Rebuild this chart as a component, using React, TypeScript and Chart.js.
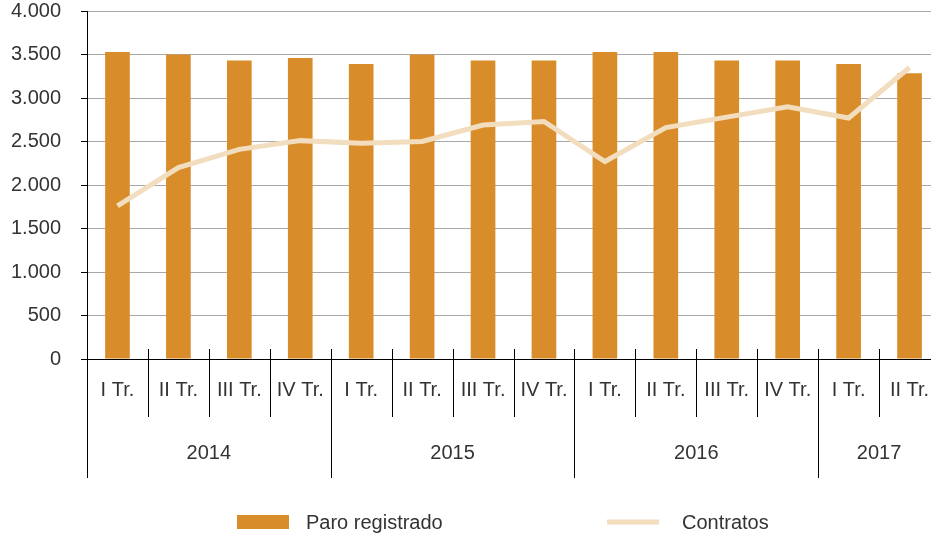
import React, { useEffect, useRef } from "react";
import { Chart, registerables } from "chart.js";

Chart.register(...registerables);

const quarters = ["I Tr.", "II Tr.", "III Tr.", "IV Tr.", "I Tr.", "II Tr.", "III Tr.", "IV Tr.", "I Tr.", "II Tr.", "III Tr.", "IV Tr.", "I Tr.", "II Tr."];
const years = ["2014", "2015", "2016", "2017"];
const quartersPerYear = [4, 4, 4, 2];
const paroRegistrado = [3530, 3500, 3430, 3460, 3390, 3500, 3430, 3430, 3530, 3530, 3430, 3430, 3390, 3285];
const contratos = [1760, 2200, 2410, 2510, 2480, 2500, 2690, 2730, 2270, 2660, 2780, 2900, 2770, 3350];
const yTicks = [0, 500, 1000, 1500, 2000, 2500, 3000, 3500, 4000];

const BAR_COLOR = "#D88D2A";
const LINE_COLOR = "#F2DDBE";
const TEXT_COLOR = "#333333";
const FONT = "'Liberation Sans', Arial, Helvetica, sans-serif";

const fmt = (v: number) => v.toLocaleString("de-DE");

const axisPlugin = {
  id: "multiAxis",
  afterDraw(chart: any) {
    const ctx = chart.ctx;
    const xs = chart.scales.x;
    const area = chart.chartArea;
    const bottom = area.bottom;
    const n = quarters.length;
    const half = (xs.getPixelForValue(1) - xs.getPixelForValue(0)) / 2;
    const yearStarts: number[] = [];
    let acc = 0;
    quartersPerYear.forEach((q) => { yearStarts.push(acc); acc += q; });
    ctx.save();
    ctx.strokeStyle = "#000";
    ctx.lineWidth = 1;
    for (let i = 0; i <= n; i++) {
      const x = Math.round(xs.getPixelForValue(i) - half) + 0.5;
      const isYear = yearStarts.includes(i);
      ctx.beginPath();
      ctx.moveTo(x, bottom - 10);
      ctx.lineTo(x, isYear ? bottom + 119 : bottom + 58);
      ctx.stroke();
    }
    ctx.fillStyle = TEXT_COLOR;
    ctx.font = `20px ${FONT}`;
    ctx.textAlign = "center";
    ctx.textBaseline = "middle";
    quarters.forEach((q, i) => {
      ctx.fillText(q, xs.getPixelForValue(i), bottom + 31);
    });
    years.forEach((y, k) => {
      const s = yearStarts[k];
      const e = s + quartersPerYear[k] - 1;
      const cx = (xs.getPixelForValue(s) + xs.getPixelForValue(e)) / 2;
      ctx.fillText(y, cx, bottom + 94);
    });
    // legend
    const ly = 522;
    ctx.fillStyle = BAR_COLOR;
    ctx.fillRect(237, ly - 7, 52, 14);
    ctx.fillStyle = TEXT_COLOR;
    ctx.textAlign = "left";
    ctx.fillText(chart.data.datasets[1].label, 306, ly + 1);
    ctx.strokeStyle = LINE_COLOR;
    ctx.lineWidth = 5;
    ctx.beginPath();
    ctx.moveTo(607, ly);
    ctx.lineTo(659, ly);
    ctx.stroke();
    ctx.fillText(chart.data.datasets[0].label, 682, ly + 1);
    ctx.restore();
  },
};

export default function App() {
  const ref = useRef<HTMLCanvasElement | null>(null);
  useEffect(() => {
    if (!ref.current) return;
    const chart = new Chart(ref.current, {
      type: "bar",
      data: {
        labels: quarters,
        datasets: [
          {
            type: "line",
            label: "Contratos",
            data: contratos,
            borderColor: LINE_COLOR,
            backgroundColor: LINE_COLOR,
            borderWidth: 5,
            tension: 0,
            pointRadius: 0,
            order: 0,
          } as any,
          {
            type: "bar",
            label: "Paro registrado",
            data: paroRegistrado,
            backgroundColor: BAR_COLOR,
            categoryPercentage: 1,
            barPercentage: 0.405,
            order: 1,
          },
        ],
      },
      options: {
        responsive: false,
        animation: false,
        layout: { padding: { top: 11, right: 5, bottom: 180, left: 0 } },
        plugins: { legend: { display: false }, tooltip: { enabled: false } },
        scales: {
          x: {
            offset: true,
            grid: { display: false },
            ticks: { display: false },
            border: { display: true, color: "#000", width: 1 },
            afterFit(scale: any) {
              scale.height = 0;
              scale.paddingLeft = 0;
              scale.paddingRight = 0;
            },
          },
          y: {
            min: 0,
            max: 4000,
            afterBuildTicks(scale: any) {
              scale.ticks = yTicks.map((v) => ({ value: v }));
            },
            afterFit(scale: any) {
              scale.width = 87;
              scale.paddingTop = 0;
              scale.paddingBottom = 0;
            },
            grid: {
              color: "#A8A8A8",
              lineWidth: 1,
              tickColor: "#000",
              tickLength: 6,
            },
            border: { display: true, color: "#000", width: 1 },
            ticks: {
              padding: 20,
              color: TEXT_COLOR,
              font: { family: FONT, size: 20 },
              callback: (v: any) => fmt(Number(v)),
            },
          },
        },
      },
      plugins: [axisPlugin],
    });
    return () => chart.destroy();
  }, []);
  return (
    <div style={{ position: "fixed", left: 0, top: 0, width: 931, height: 539, overflow: "hidden", background: "#fff" }}>
      <canvas ref={ref} width={945} height={539} style={{ display: "block", width: 945, height: 539 }} />
    </div>
  );
}
